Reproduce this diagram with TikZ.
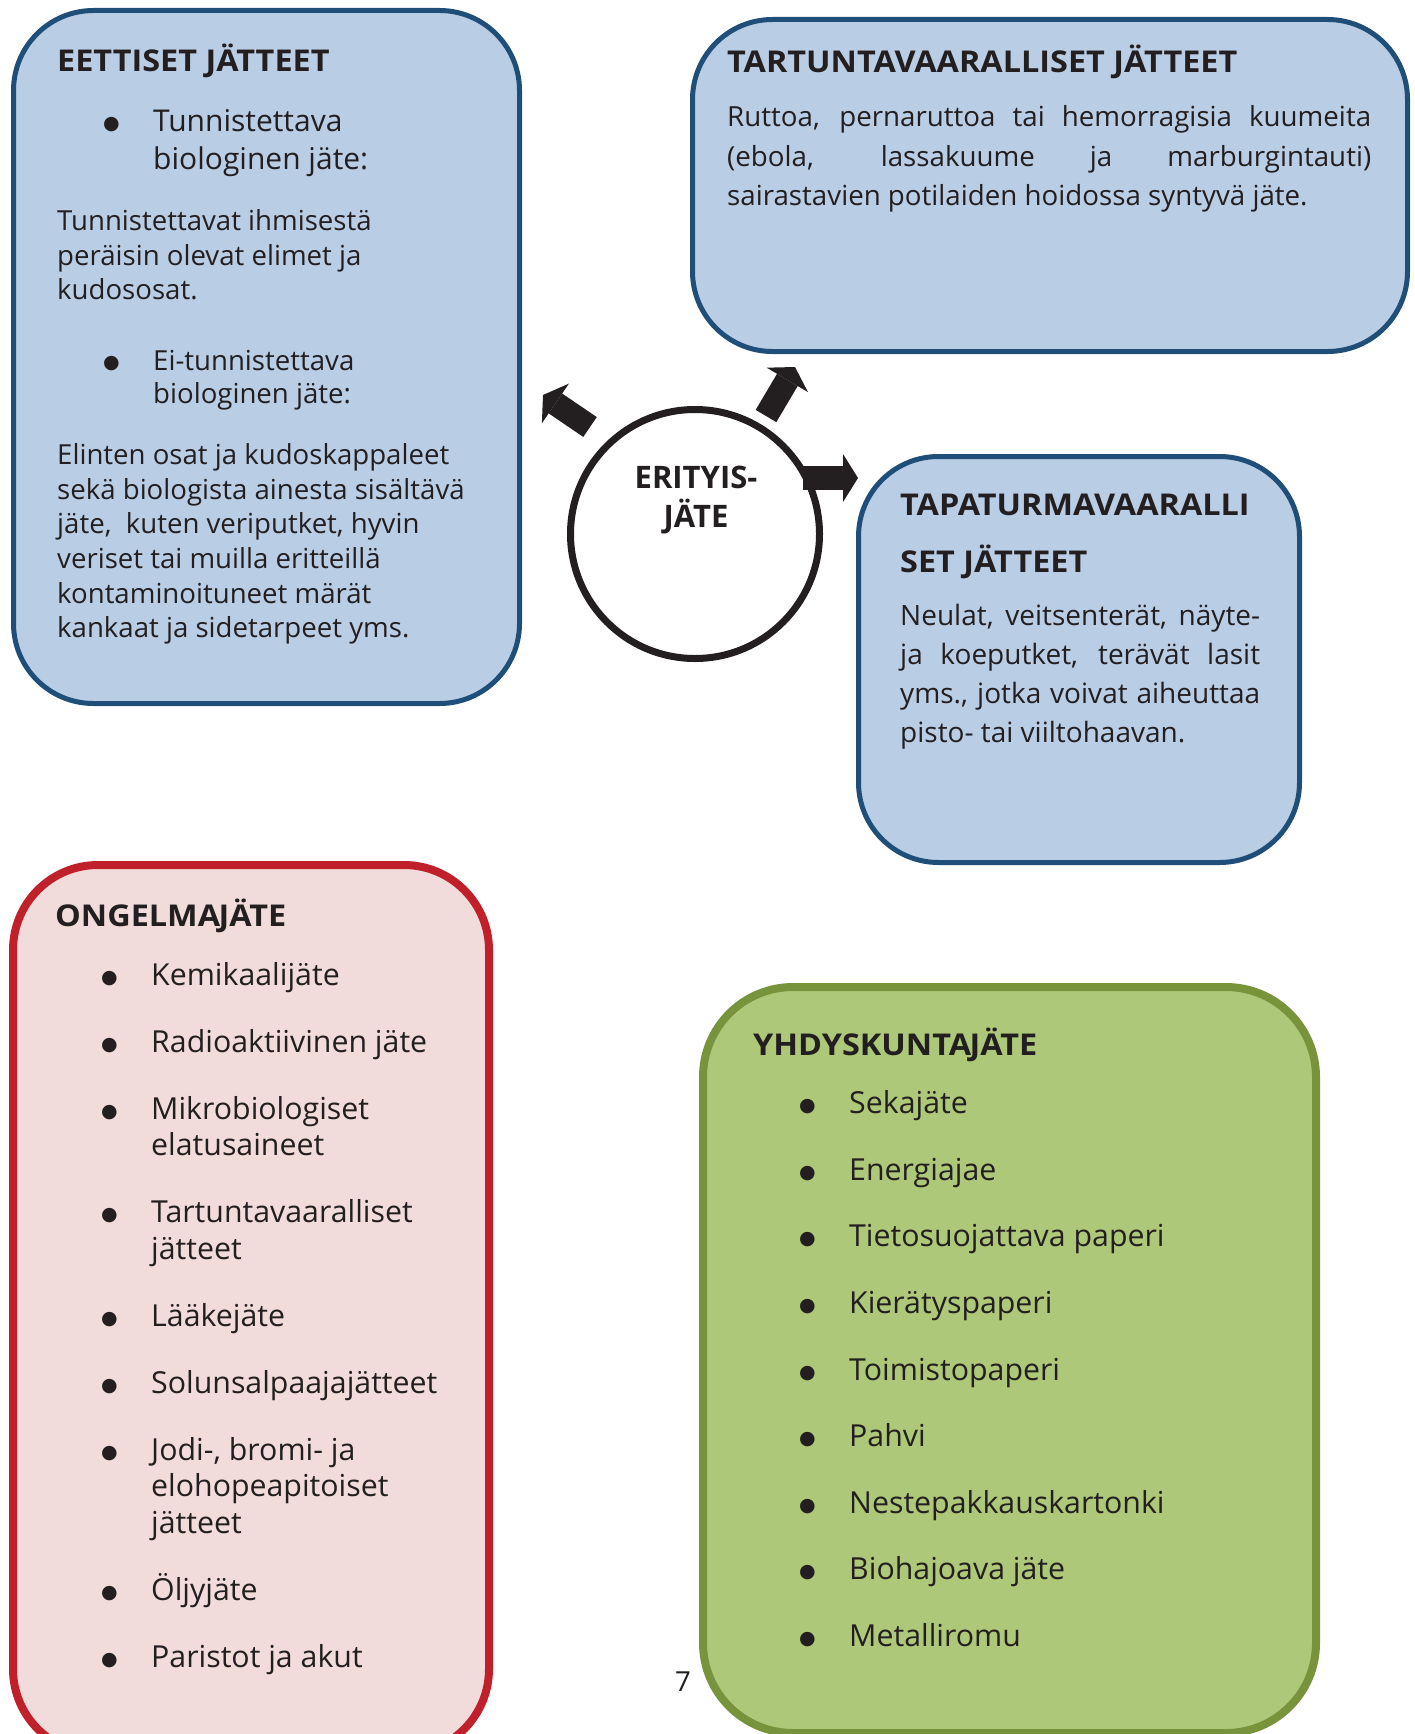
\documentclass[tikz,border=0pt]{standalone}
\usepackage{fontspec}
\setmainfont{Open Sans}
\newfontfamily\headfamily[FakeStretch=1.08]{Open Sans}
\newfontfamily\dotfamily{DejaVu Sans}
\usetikzlibrary{arrows.meta}

\definecolor{ink}{HTML}{231F20}
\definecolor{boxblue}{HTML}{B9CDE5}
\definecolor{lineblue}{HTML}{1F4E79}
\definecolor{boxred}{HTML}{F2DCDB}
\definecolor{linered}{HTML}{C0202A}
\definecolor{boxgreen}{HTML}{ADC878}
\definecolor{linegreen}{HTML}{77933C}

\newcommand{\headfont}{\fontsize{30}{36}\headfamily\bfseries}
\newcommand{\bodyfont}{\fontsize{27.6}{34.6}\selectfont}
\newcommand{\itemfont}{\fontsize{30.3}{36.5}\selectfont}
\newcommand{\dotmark}{\raisebox{2pt}{\fontsize{19}{19}\dotfamily ●}}
\newcommand{\wasteitem}[1]{\par\hangindent=96pt\hangafter=1\noindent\hspace*{46pt}\makebox[50pt][l]{\dotmark}#1\par}
\hyphenpenalty=10000

\begin{document}
\begin{tikzpicture}[x=1pt, y=-1pt,
  bluebox/.style={draw=lineblue, fill=boxblue, line width=5pt, rounded corners=80pt, anchor=north west, inner sep=0pt},
  redbox/.style={draw=linered, fill=boxred, line width=8pt, rounded corners=85pt, anchor=north west, inner sep=0pt},
  greenbox/.style={draw=linegreen, fill=boxgreen, line width=8pt, rounded corners=90pt, anchor=north west, inner sep=0pt},
  boxtext/.style={anchor=base west, inner sep=0pt, text=ink},
  blockarrow/.style={ink, line width=24pt, -{Triangle[length=15pt, width=48pt, line width=0pt]}}]
\clip (0,0) rectangle (1415,1734);

% boxes
\node[bluebox, minimum width=506pt, minimum height=693pt] (eettiset) at (11,8) {};
\node[bluebox, minimum width=715pt, minimum height=332pt] (tartunta) at (690,17) {};
\node[bluebox, minimum width=441pt, minimum height=406pt] (tapaturma) at (856,454) {};
\node[redbox, minimum width=476pt, minimum height=889pt] (ongelma) at (9,861) {};
\node[greenbox, minimum width=613pt, minimum height=746pt] (yhdyskunta) at (699,983) {};

% centre circle
\node[circle, draw=ink, line width=7pt, fill=white, minimum size=249pt, inner sep=0pt] (erityis) at (695,534) {};
\node[anchor=base, inner sep=0pt, text=ink] (erityislabel) at (696,488) {
    \begin{minipage}[t]{200pt}\centering
        \fontsize{31}{39}\selectfont\bfseries ERITYIS-\\JÄTE
    \end{minipage}
};

% arrows
\coordinate (a1tail) at (590,427);
\coordinate (a1tip) at (543,395);
\coordinate (a2tail) at (766,416);
\coordinate (a2tip) at (795,367);
\coordinate (a3tail) at (803,478);
\coordinate (a3tip) at (858,478);
\draw[blockarrow] (a1tail) -- (a1tip);
\draw[blockarrow] (a2tail) -- (a2tip);
\draw[blockarrow] (a3tail) -- (a3tip);

% EETTISET text
\node[boxtext] (eettisettext) at (57,72) {
    \begin{minipage}[t]{440pt}\raggedright
        {\headfont EETTISET JÄTTEET\par}
        \vspace{21.5pt}
        {\fontsize{30}{38}\selectfont\wasteitem{Tunnistettava\newline biologinen jäte:}}
        \vspace{26.4pt}
        {\bodyfont Tunnistettavat ihmisestä\\peräisin olevat elimet ja\\kudososat.\par}
        \vspace{38pt}
        {\fontsize{27.6}{33}\selectfont\wasteitem{Ei-tunnistettava\newline biologinen jäte:}}
        \vspace{26.4pt}
        {\bodyfont Elinten osat ja kudoskappaleet\\sekä biologista ainesta sisältävä\\jäte,\ \ kuten veriputket, hyvin\\veriset tai muilla eritteillä\\kontaminoituneet märät\\kankaat ja sidetarpeet yms.\par}
    \end{minipage}
};

% TARTUNTAVAARALLISET text
\node[boxtext] (tartuntatext) at (727,73) {
    \begin{minipage}[t]{644pt}
        {\headfont TARTUNTAVAARALLISET JÄTTEET\par}
        \vspace{14.5pt}
        {\fontsize{27.7}{39.5}\selectfont Ruttoa, pernaruttoa tai hemorragisia kuumeita\linebreak (ebola, lassakuume ja marburgintauti)\linebreak sairastavien potilaiden hoidossa syntyvä jäte.\par}
    \end{minipage}
};

% TAPATURMAVAARALLISET text
\node[boxtext] (tapaturmatext) at (900,515) {
    \begin{minipage}[t]{360pt}
        {\fontsize{30}{57}\headfamily\bfseries TAPATURMAVAARALLI\\SET JÄTTEET\par}
        \vspace{13.7pt}
        {\fontsize{28}{39.3}\selectfont Neulat, veitsenterät, näyte-\linebreak ja koeputket, terävät lasit\linebreak yms., jotka voivat aiheuttaa\linebreak pisto- tai viiltohaavan.\par}
    \end{minipage}
};

% ONGELMAJÄTE text
\node[boxtext] (ongelmatext) at (55,926) {
    \begin{minipage}[t]{430pt}\raggedright
        {\headfont ONGELMA\kern-1.5pt JÄTE\par}
        \vspace{-8pt}
        \itemfont\setlength{\parskip}{30.5pt}
        \wasteitem{Kemikaalijäte}
        \wasteitem{Radioaktiivinen jäte}
        \wasteitem{Mikrobiologiset\newline elatusaineet}
        \wasteitem{Tartuntavaaralliset\newline jätteet}
        \wasteitem{Lääkejäte}
        \wasteitem{Solunsalpaajajätteet}
        \wasteitem{Jodi-, bromi- ja\newline elohopeapitoiset\newline jätteet}
        \wasteitem{Öljyjäte}
        \wasteitem{Paristot ja akut}
    \end{minipage}
};

% YHDYSKUNTAJÄTE text
\node[boxtext] (yhdyskuntatext) at (753,1055) {
    \begin{minipage}[t]{520pt}\raggedright
        {\headfont YHDYSKUNTA\kern-1.5pt JÄTE\par}
        \vspace{-8pt}
        \itemfont\setlength{\parskip}{30.1pt}
        \wasteitem{Sekajäte}
        \wasteitem{Energiajae}
        \wasteitem{Tietosuojattava paperi}
        \wasteitem{Kierätyspaperi}
        \wasteitem{Toimistopaperi}
        \wasteitem{Pahvi}
        \wasteitem{Nestepakkauskartonki}
        \wasteitem{Biohajoava jäte}
        \wasteitem{Metalliromu}
    \end{minipage}
};

% page number
\node[anchor=base, inner sep=0pt, text=ink, font=\bodyfont] (pagenum) at (683,1691) {7};

\end{tikzpicture}
\end{document}
